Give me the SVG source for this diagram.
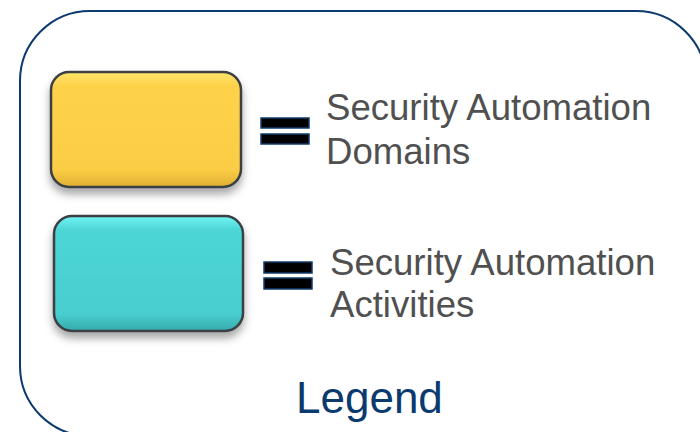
<svg xmlns="http://www.w3.org/2000/svg" width="700" height="432" viewBox="0 0 700 432">
<style>
.frame{fill:none;stroke:#0b3a6e;stroke-width:2}
.box{stroke:#3a3f44;stroke-width:2.5}
.bar{fill:#000;stroke:#123d6b;stroke-width:1.5}
.lbl{font-family:"Liberation Sans",Arial,sans-serif;font-size:36.6px;fill:#505050}
.title{font-family:"Liberation Sans",Arial,sans-serif;font-size:44px;fill:#0b3a6e}
</style>
<defs>
<filter id="sh" x="-20%" y="-20%" width="140%" height="150%">
<feDropShadow dx="0" dy="6" stdDeviation="4" flood-color="#000" flood-opacity="0.35"/>
</filter>
<linearGradient id="gy" x1="0" y1="0" x2="0" y2="1">
<stop offset="0" stop-color="#ffe46a"/>
<stop offset="0.12" stop-color="#fdd24a"/>
<stop offset="0.85" stop-color="#fbcd45"/>
<stop offset="1" stop-color="#e0b033"/>
</linearGradient>
<linearGradient id="gc" x1="0" y1="0" x2="0" y2="1">
<stop offset="0" stop-color="#70f4f4"/>
<stop offset="0.12" stop-color="#4ed6d6"/>
<stop offset="0.85" stop-color="#48cece"/>
<stop offset="1" stop-color="#36a9ad"/>
</linearGradient>
</defs>
<path class="frame" d="M20,81 A70,70 0 0 1 90,11 L636,11 A70,70 0 0 1 706,81 L706,436 M20,81 L20,366 A70,70 0 0 0 90,436"/>
<g id="domains">
<rect class="box" x="51" y="72" width="190" height="115" rx="18" fill="url(#gy)" filter="url(#sh)"/>
<rect class="bar" x="261" y="118" width="48" height="10"/>
<rect class="bar" x="261" y="134" width="48" height="10"/>
<text class="lbl" x="326" y="120">Security Automation</text>
<text class="lbl" x="326" y="164">Domains</text>
</g>
<g id="activities">
<rect class="box" x="54" y="216" width="189" height="115" rx="18" fill="url(#gc)" filter="url(#sh)"/>
<rect class="bar" x="264" y="262" width="48" height="11"/>
<rect class="bar" x="264" y="278" width="48" height="11"/>
<text class="lbl" x="330" y="275">Security Automation</text>
<text class="lbl" x="330" y="317">Activities</text>
</g>
<g id="legend">
<text class="title" x="296" y="413">Legend</text>
</g>
<g id="connectors"/>
</svg>
